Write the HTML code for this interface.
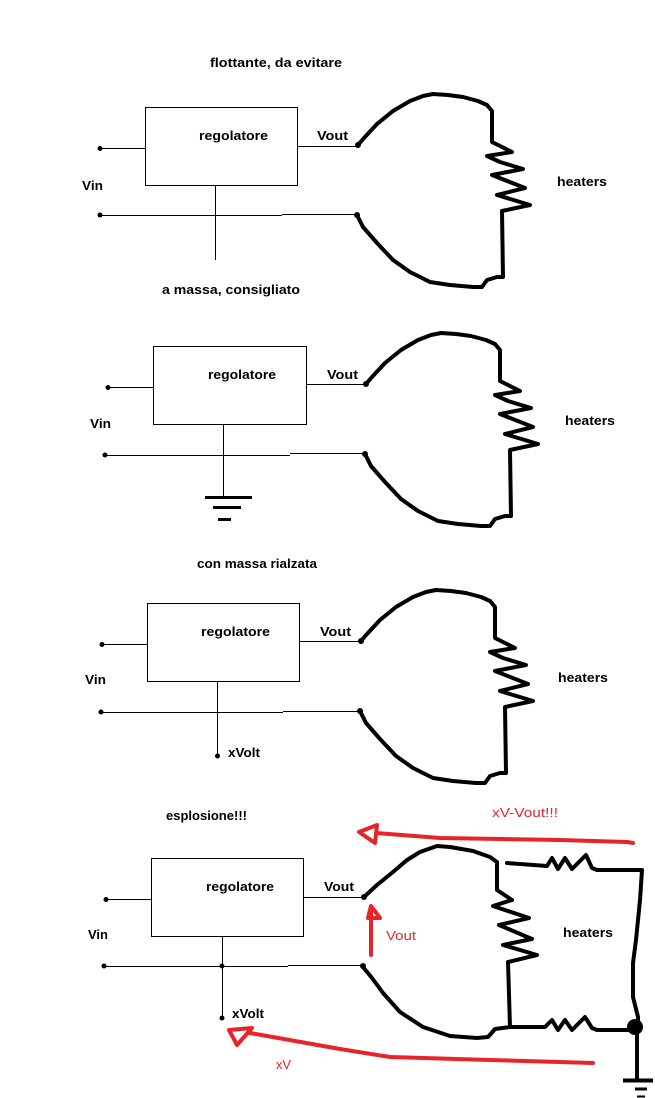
<!DOCTYPE html>
<html><head><meta charset="utf-8"><style>
html,body{margin:0;padding:0;background:#fff;}
svg{display:block;}
text{font-family:"Liberation Sans",Arial,sans-serif;font-size:13px;font-weight:bold;fill:#000;}
.r{fill:#e8232a;font-weight:normal;}
</style></head><body>
<svg width="655" height="1098" viewBox="0 0 655 1098" xmlns="http://www.w3.org/2000/svg">
<defs>
<g id="heat">
<path d="M358,145 L364,138 L377,124 L393,111 L410,101 L423,96 L433,94 L448,95 L463,97 L478,101 L487,105 L492,111 L492,142 L500,146 L512,152 L487,156 L500,162 L523,169 L492,175 L525,188 L497,195 L530,205 L502,211 L503,277 L497,277 L487,280 L482,287 L473,287 L450,285 L430,282 L410,272 L393,260 L377,243 L363,227 L357,215" fill="none" stroke="#000" stroke-width="4" stroke-linejoin="round" stroke-linecap="round"/>
<circle cx="358" cy="145" r="3" fill="#000"/>
<circle cx="357" cy="215" r="3" fill="#000"/>
</g>
</defs>

<!-- Diagram 1 -->
<text x="210" y="67" textLength="132" lengthAdjust="spacingAndGlyphs">flottante, da evitare</text>
<rect x="145.5" y="107.5" width="152" height="78" fill="none" stroke="#000" stroke-width="1"/>
<text x="199" y="140" textLength="69" lengthAdjust="spacingAndGlyphs">regolatore</text>
<text x="317" y="140" textLength="31" lengthAdjust="spacingAndGlyphs">Vout</text>
<text x="82" y="190" textLength="21" lengthAdjust="spacingAndGlyphs">Vin</text>
<line x1="100" y1="148.5" x2="145" y2="148.5" stroke="#000"/>
<circle cx="100" cy="148.5" r="2.5" fill="#000"/>
<line x1="297" y1="146.5" x2="358" y2="146.5" stroke="#000"/>
<line x1="100" y1="215.5" x2="282" y2="215.5" stroke="#000"/>
<line x1="282" y1="214.5" x2="358" y2="214.5" stroke="#000"/>
<circle cx="100" cy="215" r="2.5" fill="#000"/>
<line x1="215.5" y1="185" x2="215.5" y2="260" stroke="#000"/>
<use href="#heat"/>
<text x="557" y="186" textLength="50" lengthAdjust="spacingAndGlyphs">heaters</text>
<text x="162" y="294" textLength="138" lengthAdjust="spacingAndGlyphs">a massa, consigliato</text>

<!-- Diagram 2 -->
<rect x="153.5" y="346.5" width="153" height="78" fill="none" stroke="#000" stroke-width="1"/>
<text x="208" y="379" textLength="68" lengthAdjust="spacingAndGlyphs">regolatore</text>
<text x="327" y="379" textLength="31" lengthAdjust="spacingAndGlyphs">Vout</text>
<text x="90" y="428" textLength="21" lengthAdjust="spacingAndGlyphs">Vin</text>
<line x1="108" y1="387.5" x2="153" y2="387.5" stroke="#000"/>
<circle cx="108" cy="387.5" r="2.5" fill="#000"/>
<line x1="306" y1="384.5" x2="366" y2="384.5" stroke="#000"/>
<line x1="105" y1="455.5" x2="290" y2="455.5" stroke="#000"/>
<line x1="290" y1="453.5" x2="365" y2="453.5" stroke="#000"/>
<circle cx="105" cy="455" r="2.5" fill="#000"/>
<line x1="223.5" y1="424" x2="223.5" y2="497" stroke="#000"/>
<line x1="205" y1="497.5" x2="252" y2="497.5" stroke="#000" stroke-width="3"/>
<line x1="213" y1="507.5" x2="241" y2="507.5" stroke="#000" stroke-width="3"/>
<line x1="218" y1="519.5" x2="231" y2="519.5" stroke="#000" stroke-width="3"/>
<use href="#heat" transform="translate(8,239)"/>
<text x="565" y="425" textLength="50" lengthAdjust="spacingAndGlyphs">heaters</text>

<!-- Diagram 3 -->
<text x="197" y="568" textLength="120" lengthAdjust="spacingAndGlyphs">con massa rialzata</text>
<rect x="147.5" y="603.5" width="152" height="78" fill="none" stroke="#000" stroke-width="1"/>
<text x="201" y="636" textLength="69" lengthAdjust="spacingAndGlyphs">regolatore</text>
<text x="320" y="636" textLength="31" lengthAdjust="spacingAndGlyphs">Vout</text>
<text x="85" y="684" textLength="21" lengthAdjust="spacingAndGlyphs">Vin</text>
<line x1="102" y1="644.5" x2="147" y2="644.5" stroke="#000"/>
<circle cx="102" cy="644.5" r="2.5" fill="#000"/>
<line x1="299" y1="641.5" x2="361" y2="641.5" stroke="#000"/>
<line x1="101" y1="712.5" x2="283" y2="712.5" stroke="#000"/>
<line x1="283" y1="711.5" x2="358" y2="711.5" stroke="#000"/>
<circle cx="101" cy="712" r="2.5" fill="#000"/>
<line x1="217.5" y1="681" x2="217.5" y2="755" stroke="#000"/>
<circle cx="217.5" cy="756" r="2.5" fill="#000"/>
<text x="228" y="757" textLength="32" lengthAdjust="spacingAndGlyphs">xVolt</text>
<use href="#heat" transform="translate(3,496)"/>
<text x="558" y="682" textLength="50" lengthAdjust="spacingAndGlyphs">heaters</text>

<!-- Diagram 4 -->
<text x="166" y="820" textLength="81" lengthAdjust="spacingAndGlyphs">esplosione!!!</text>
<text class="r" x="492" y="817" textLength="66" lengthAdjust="spacingAndGlyphs">xV-Vout!!!</text>
<rect x="151.5" y="858.5" width="152" height="78" fill="none" stroke="#000" stroke-width="1"/>
<text x="206" y="891" textLength="68" lengthAdjust="spacingAndGlyphs">regolatore</text>
<text x="324" y="891" textLength="30" lengthAdjust="spacingAndGlyphs">Vout</text>
<text x="88" y="939" textLength="20" lengthAdjust="spacingAndGlyphs">Vin</text>
<line x1="106" y1="899.5" x2="151" y2="899.5" stroke="#000"/>
<circle cx="106" cy="899.5" r="2.5" fill="#000"/>
<line x1="303" y1="897.5" x2="364" y2="897.5" stroke="#000"/>
<line x1="104" y1="966.5" x2="288" y2="966.5" stroke="#000"/>
<line x1="288" y1="965.5" x2="363" y2="965.5" stroke="#000"/>
<circle cx="104" cy="966" r="2.5" fill="#000"/>
<circle cx="222" cy="966" r="2.5" fill="#000"/>
<line x1="222.5" y1="936" x2="222.5" y2="1018" stroke="#000"/>
<circle cx="222" cy="1018" r="2.5" fill="#000"/>
<text x="232" y="1018" textLength="32" lengthAdjust="spacingAndGlyphs">xVolt</text>

<path d="M364,897 L377,885 L393,872 L407,860 L420,852 L437,846 L450,847 L473,851 L490,857 L497,862 L497,890 L512,900 L493,906 L529,918 L499,925 L532,939 L503,945 L537,955 L508,962 L510,1027 L495,1029 L488,1037 L477,1038 L450,1036 L423,1027 L400,1012 L383,993 L372,978 L363,967" fill="none" stroke="#000" stroke-width="4" stroke-linejoin="round" stroke-linecap="round"/>
<circle cx="364" cy="897" r="3" fill="#000"/>
<circle cx="363" cy="966" r="3" fill="#000"/>
<path d="M507,863 L547,866 L552,858 L558,869 L565,858 L572,869 L586,855 L592,868 L597,870 L642,870 L640,900 L636,940 L633,963 L633,997 L638,1017 L638,1027" fill="none" stroke="#000" stroke-width="4" stroke-linejoin="round" stroke-linecap="round"/>
<path d="M510,1027 L545,1027 L552,1020 L558,1030 L565,1020 L572,1030 L585,1017 L592,1028 L597,1030 L636,1030" fill="none" stroke="#000" stroke-width="4" stroke-linejoin="round" stroke-linecap="round"/>
<circle cx="635" cy="1027" r="8" fill="#000"/>
<line x1="637" y1="1027" x2="637" y2="1080" stroke="#000" stroke-width="4"/>
<line x1="623" y1="1080.5" x2="653" y2="1080.5" stroke="#000" stroke-width="4"/>
<line x1="635" y1="1089" x2="647" y2="1089" stroke="#000" stroke-width="3"/>
<line x1="637" y1="1096.5" x2="645" y2="1096.5" stroke="#000" stroke-width="2"/>
<text x="563" y="937" textLength="50" lengthAdjust="spacingAndGlyphs">heaters</text>

<!-- red annotations -->
<path d="M376,833 L440,838 L560,840 L627,842 L633,843" fill="none" stroke="#e8232a" stroke-width="4" stroke-linecap="round" stroke-linejoin="round"/>
<polygon points="359,832 377,825 375,843" fill="none" stroke="#e8232a" stroke-width="4" stroke-linejoin="round"/>
<line x1="371" y1="955" x2="371" y2="912" stroke="#e8232a" stroke-width="4" stroke-linecap="round"/>
<polygon points="371,906 368,918 380,918" fill="none" stroke="#e8232a" stroke-width="4" stroke-linejoin="round"/>
<text class="r" x="386" y="940" textLength="30" lengthAdjust="spacingAndGlyphs">Vout</text>
<path d="M250,1033 L340,1049 L390,1057 L490,1060 L593,1063" fill="none" stroke="#e8232a" stroke-width="4" stroke-linecap="round" stroke-linejoin="round"/>
<polygon points="229,1030 252,1028 237,1045" fill="none" stroke="#e8232a" stroke-width="4" stroke-linejoin="round"/>
<text class="r" x="276" y="1069" textLength="15" lengthAdjust="spacingAndGlyphs">xV</text>
</svg>
</body></html>
